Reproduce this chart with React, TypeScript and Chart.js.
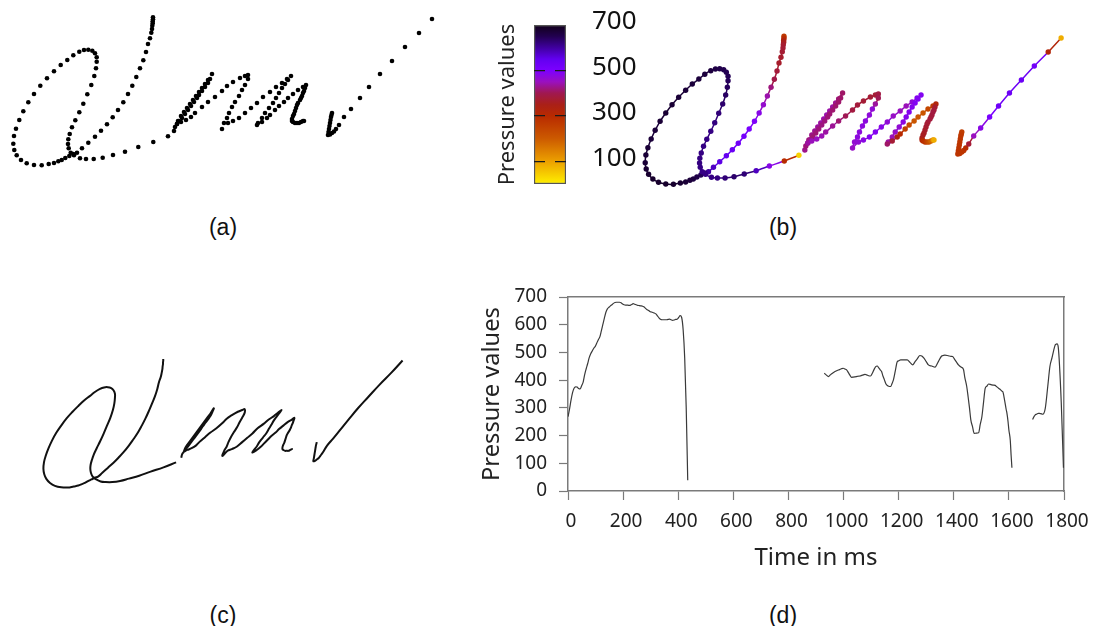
import React, { useEffect, useRef } from "react";
import { Chart, registerables } from "chart.js";

Chart.register(...registerables);

const FONT = '"Noto Sans", sans-serif';

// Pen trajectory, stroke 1
const strokeX1 = [153,153,152.7,152.7,152.3,152,151.3,150,148,146,143.3,140,136.3,132.3,128,123.3,118,112.7,107,101,95,88.3,82,77,73.3,69.3,65.3,61.7,58.3,54,48.7,41.7,34,26.7,21,16.7,14.3,13.3,14,16,19.3,23.3,28.3,34,40.3,47,54,60.7,67.3,73.3,79.3,84,88.3,92.3,95,96.7,96.7,96,94.3,91.3,87.3,83.3,79.3,75.3,72,69.7,68.3,68,68.7,70.7,74,80,86,93.7,102.7,113,125,138.3,153.3,168];
const strokeY1 = [17.3,19.3,21.3,23.3,25.7,29,32.7,38.3,44,52,60.3,68.3,77,85.7,94,102.3,110,117.3,124.3,130.7,136.7,142.7,148.3,152.7,154,156,158,160,161.3,163,164,165.3,165,163.3,160,155.3,150,143.7,136,128.7,120,111.3,102.3,94,85.7,78.3,71.3,65,60,55.3,51.7,50,49.7,50.7,53.3,57.3,61.7,68.3,76,85,94.3,103.7,112.3,120.3,127.3,134,139.3,144,148.3,152.7,155.3,158.3,159,159,157.7,155,151.7,147,142,136.3];
const time1 = [0,5.5,11,16.5,22,27.5,33,38.5,44,49.5,55,60.5,66,71.5,77,82.5,88,93.5,99,104.5,110,115.5,121,126.5,132,137.5,143,148.5,154,159.5,165,170.5,176,181.5,187,192.5,198,203.5,209,214.5,220,225.5,231,236.5,242,247.5,253,258.5,264,269.5,275,280.5,286,291.5,297,302.5,308,313.5,319,324.5,330,335.5,341,346.5,352,357.5,363,368.5,374,379.5,385,390.5,396,401.5,407,412.5,418,423.5,429,434.5];
const pressure1 = [268,295,328,355,371,376,375,370,368,380,393,420,441,460,481,495,505,515,522,534,546,556,578,601,624,645,657,663,668,672,677,680,681,681,681,679,675,672,671,671,670,670,673,676,674,672,670,669,668,667,665,660,655,652,648,646,644,642,639,632,625,620,618,618,618,618,619,620,618,616,617,619,620,626,633,626,580,480,300,39];

// Pen trajectory, stroke 2
const strokeX2 = [174,175,177,178,181,184,187,190,193,196,199,202,205,208,212,210,208,205,202,199,197,194,191,188,185,182,179,177,181,186,191,195,202,208,215,222,227,233,240,245,248,248,245,242,239,235,232,229,227,224,222,228,233,239,245,251,257,263,270,276,282,287,291,288,285,282,279,276,273,269,265,262,258,257,262,267,270,275,279,284,288,293,298,303,306,305,304,303,302,301,300,298,297,296,295,294,293,292,292,293,295,297,299,301,303,304];
const strokeY2 = [131,127,124,121,116,112,108,104,100,96,92,88,84,80,74,79,83,87,91,95,98,102,106,110,114,118,121,124,122,120,117,113,107,102,97,91,86,82,78,76,75,79,85,90,96,102,107,113,118,123,129,123,121,118,113,108,103,97,92,87,83,79,76,80,84,88,93,98,103,108,113,118,123,125,122,118,115,110,106,102,98,94,90,87,85,88,91,93,96,98,100,103,105,108,111,114,116,119,121,122,123,123,123,122,121,121];
const time2 = [930,938,945,953,961,969,977,985,992,999,1005,1011,1017,1023,1029,1035,1041,1047,1053,1060,1066,1072,1078,1084,1091,1098,1104,1110,1116,1122,1128,1133,1138,1143,1148,1154,1159,1164,1168,1171,1176,1181,1188,1195,1201,1207,1215,1223,1231,1241,1251,1259,1268,1277,1284,1291,1300,1308,1320,1332,1344,1356,1362,1368,1376,1384,1390,1396,1403,1410,1417,1426,1435,1440,1447,1452,1457,1462,1468,1474,1482,1490,1496,1502,1508,1514,1520,1526,1532,1538,1544,1550,1555,1560,1565,1570,1575,1578,1584,1590,1593,1597,1600,1605,1608,1611];
const pressure2 = [425,418,413,420,426,431,435,438,441,443,440,437,428,418,410,411,412,413,414,415,417,419,421,419,416,415,424,437,448,451,444,437,431,415,402,386,381,378,377,377,388,401,434,467,470,473,473,473,473,464,455,466,478,489,487,480,467,455,451,447,467,487,489,490,489,487,486,485,475,465,455,447,439,410,377,340,300,256,232,208,209,210,240,268,320,370,378,386,385,383,382,381,377,373,369,365,360,358,330,295,280,250,220,183,130,84];

// Pen trajectory, stroke 3
const strokeX3 = [332,331.5,331,330.5,330,329.5,329,328.5,328,330,332,334,336,339,344,351,360,369,380,392,405,419,432];
const strokeY3 = [113,115,117,120,123,126,129,132,135,134.5,133,131.5,129,125,117,109,98,87,74,61,47,33,19];
const time3 = [1686,1689,1692,1695,1697,1700,1703,1707,1711,1715,1719,1723,1732,1741,1749,1756,1762,1768,1772,1775,1779,1790,1798];
const pressure3 = [258,264,270,274,276,277,279,280,280,279,278,277,298,377,450,479,505,527,530,531,520,320,84];

const strokesX = [strokeX1, strokeX2, strokeX3];
const strokesY = [strokeY1, strokeY2, strokeY3];
const strokesT = [time1, time2, time3];
const strokesP = [pressure1, pressure2, pressure3];

// Colour bar
const colorValues = [0, 100, 200, 300, 350, 400, 450, 500, 550, 600, 650, 700];
const colorHexes = ["#fff000", "#eca000", "#cc5a00", "#b82a00", "#aa2018", "#a01850", "#9a10c0", "#7c00ff", "#6200f0", "#4000a0", "#220050", "#100018"];
const colorGrid = [100, 200, 300, 400, 500, 600, 700];
const colorTicks = [100, 300, 500, 700];
const captions = [
  { text: "(a)", x: 223, y: 227 },
  { text: "(b)", x: 783, y: 227 },
  { text: "(c)", x: 223, y: 615 },
  { text: "(d)", x: 783, y: 615 },
];

const rgb = (h: string) => [1, 3, 5].map((i) => parseInt(h.slice(i, i + 2), 16));
function colorOf(v: number): string {
  for (let i = 1; i < colorValues.length; i++) {
    if (v <= colorValues[i]) {
      const f = (v - colorValues[i - 1]) / (colorValues[i] - colorValues[i - 1]);
      const a = rgb(colorHexes[i - 1]);
      const b = rgb(colorHexes[i]);
      return `rgb(${a.map((c, k) => Math.round(c + (b[k] - c) * f)).join(",")})`;
    }
  }
  return colorHexes[colorHexes.length - 1];
}

const penData = (s: number) => strokesX[s].map((x, i) => ({ x, y: strokesY[s][i] }));
const hiddenScales = {
  x: { type: "linear", min: 0, max: 450, display: false },
  y: { type: "linear", min: 0, max: 190, reverse: true, display: false },
};
const baseOptions = {
  responsive: false,
  animation: false,
  events: [],
  layout: { padding: 0, autoPadding: false },
  plugins: { legend: { display: false }, tooltip: { enabled: false } },
};
const fixed = (w: number | null, h: number | null) => (s: any) => {
  if (w !== null) s.width = w;
  if (h !== null) s.height = h;
  s.paddingLeft = s.paddingRight = s.paddingTop = s.paddingBottom = 0;
};

function useChart(make: (c: HTMLCanvasElement) => Chart) {
  const ref = useRef<HTMLCanvasElement>(null);
  useEffect(() => {
    const chart = make(ref.current as HTMLCanvasElement);
    return () => chart.destroy();
  }, []);
  return ref;
}

function Panel({ x, y, w, h, make }: any) {
  const ref = useChart(make);
  return <canvas ref={ref} width={w} height={h} style={{ position: "absolute", left: x, top: y, width: w, height: h, display: "block" }} />;
}

const makeDots = (c: HTMLCanvasElement) =>
  new Chart(c, {
    type: "scatter",
    data: { datasets: [0, 1, 2].map((s) => ({ data: penData(s), showLine: false, pointRadius: 2.3, pointBorderWidth: 0, pointBackgroundColor: "#000", clip: false })) },
    options: { ...baseOptions, scales: hiddenScales },
  } as any);

const makeColored = (c: HTMLCanvasElement) =>
  new Chart(c, {
    type: "scatter",
    data: {
      datasets: [0, 1, 2].map((s) => ({
        data: penData(s),
        showLine: true,
        borderWidth: 1.5,
        tension: 0.2,
        clip: false,
        pointRadius: 2.7,
        pointBorderWidth: 0,
        pointBackgroundColor: (ctx: any) => colorOf(strokesP[s][ctx.dataIndex]),
        segment: { borderColor: (ctx: any) => colorOf(strokesP[s][ctx.p0DataIndex]) },
      })),
    },
    options: { ...baseOptions, scales: hiddenScales },
  } as any);

const makeTrace = (c: HTMLCanvasElement) =>
  new Chart(c, {
    type: "scatter",
    data: { datasets: [0, 1, 2].map((s) => ({ data: penData(s), showLine: true, borderColor: "#111", borderWidth: 2, tension: 0.4, pointRadius: 0, clip: false })) },
    options: { ...baseOptions, scales: hiddenScales },
  } as any);

const makeColorBar = (c: HTMLCanvasElement) =>
  new Chart(c, {
    type: "bar",
    data: {
      labels: ["Pressure"],
      datasets: [
        {
          data: [[0, 700]],
          yAxisID: "y",
          barPercentage: 1,
          categoryPercentage: 1,
          borderColor: "#555",
          borderWidth: 1.5,
          borderSkipped: false,
          backgroundColor: (ctx: any) => {
            const area = ctx.chart.chartArea;
            if (!area) return "#800080";
            const g = ctx.chart.ctx.createLinearGradient(0, area.bottom, 0, area.top);
            colorValues.forEach((v, i) => g.addColorStop(v / 700, colorHexes[i]));
            return g;
          },
        },
      ],
    },
    options: {
      ...baseOptions,
      layout: { padding: { top: 20, bottom: 11 }, autoPadding: false },
      scales: {
        x: { display: false },
        y: {
          position: "right",
          min: 0,
          max: 700,
          afterFit: fixed(90, null),
          afterBuildTicks: (s: any) => { s.ticks = colorGrid.map((value) => ({ value })); },
          border: { display: false, dash: [11, 10] },
          grid: {
            z: 1,
            drawTicks: false,
            lineWidth: 1.2,
            color: (ctx: any) => (ctx.tick && ctx.tick.value < 700 ? "#1a1a1a" : "rgba(0,0,0,0)"),
          },
          ticks: {
            padding: 26,
            labelOffset: -3,
            color: "#111",
            font: { family: FONT, size: 26 },
            callback: (v: number) => (colorTicks.includes(v) ? String(v) : ""),
          },
        },
        yT: {
          position: "left",
          min: 0,
          max: 700,
          afterFit: fixed(39, null),
          border: { display: false },
          grid: { display: false },
          ticks: { display: false },
          title: { display: true, text: "Pressure values", color: "#222", font: { family: FONT, size: 22 }, padding: { top: 0, bottom: 0 } },
        },
      },
    },
  } as any);

const AXIS = "#7a7a7a";
const makeTimeSeries = (c: HTMLCanvasElement) =>
  new Chart(c, {
    type: "scatter",
    data: {
      datasets: [0, 1, 2].map((s) => ({
        data: strokesT[s].map((x, i) => ({ x, y: strokesP[s][i] })),
        showLine: true,
        borderColor: "#3a3a3a",
        borderWidth: 1.2,
        cubicInterpolationMode: "monotone",
        pointRadius: 0,
      })),
    },
    options: {
      ...baseOptions,
      layout: { padding: { top: 17, right: 26 }, autoPadding: false },
      scales: {
        x: {
          type: "linear",
          min: 0,
          max: 1800,
          afterFit: fixed(null, 89),
          border: { color: AXIS, width: 1.5 },
          grid: { drawOnChartArea: false, tickColor: AXIS, tickLength: 9, tickWidth: 1.2 },
          ticks: { stepSize: 200, maxRotation: 0, autoSkip: false, labelOffset: 3, padding: 10, color: "#222", font: { family: FONT, size: 19 }, callback: (v: number) => String(v) },
          title: { display: true, text: "Time in ms", color: "#222", font: { family: FONT, size: 24 }, padding: { top: 0, bottom: 7 } },
        },
        y: {
          type: "linear",
          min: 0,
          max: 700,
          afterFit: fixed(98, null),
          border: { color: AXIS, width: 1.5 },
          grid: { drawOnChartArea: false, tickColor: AXIS, tickLength: 9, tickWidth: 1.2 },
          ticks: { stepSize: 100, padding: 12, color: "#222", font: { family: FONT, size: 19 }, callback: (v: number) => String(v) },
          title: { display: true, text: "Pressure values", color: "#222", font: { family: FONT, size: 23.7 }, padding: { top: 8, bottom: 0 } },
        },
        xTop: {
          type: "linear",
          position: "top",
          min: 0,
          max: 1800,
          afterFit: fixed(null, 0),
          border: { color: AXIS, width: 1.5 },
          grid: { display: false },
          ticks: { display: false },
        },
        yRight: {
          type: "linear",
          position: "right",
          min: 0,
          max: 700,
          afterFit: fixed(0, null),
          border: { color: AXIS, width: 1.5 },
          grid: { display: false },
          ticks: { display: false },
        },
      },
    },
  } as any);

export default function App() {
  return (
    <div style={{ position: "absolute", left: 0, top: 0, width: 1097, height: 626, background: "#fff", overflow: "hidden" }}>
      <Panel x={0} y={0} w={450} h={190} make={makeDots} />
      <Panel x={495} y={5} w={161} h={190} make={makeColorBar} />
      <Panel x={632} y={19} w={447} h={190} make={makeColored} />
      <Panel x={32} y={344} w={386} h={165} make={makeTrace} />
      <Panel x={470} y={280} w={620} h={300} make={makeTimeSeries} />
      {captions.map((c) => (
        <div key={c.text} style={{ position: "absolute", left: c.x - 30, top: c.y - 15, width: 60, height: 30, lineHeight: "30px", textAlign: "center", fontFamily: '"Liberation Sans", sans-serif', fontSize: 23, color: "#111" }}>
          {c.text}
        </div>
      ))}
    </div>
  );
}
